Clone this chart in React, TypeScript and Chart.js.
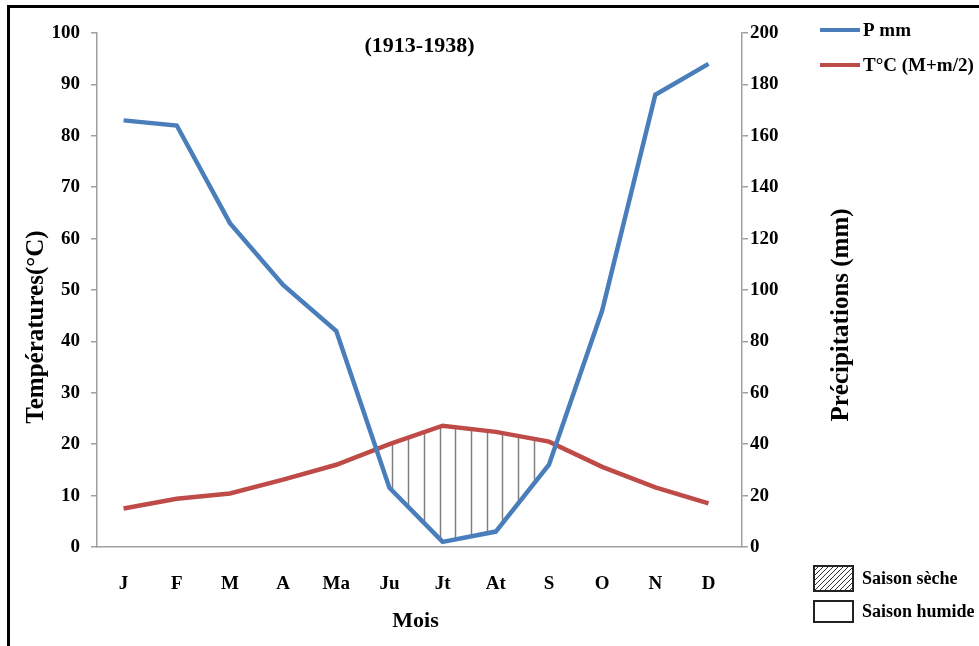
import React, { useEffect, useRef } from "react";
import { Chart, registerables } from "chart.js";

Chart.register(...registerables);

const months = ["J", "F", "M", "A", "Ma", "Ju", "Jt", "At", "S", "O", "N", "D"];
const precipitationMm = [166, 164, 126, 102, 84, 23, 2, 6, 32, 92, 176, 188];
const temperatureC = [7.5, 9.4, 10.4, 13.1, 16, 20, 23.6, 22.4, 20.5, 15.6, 11.6, 8.5];
const tempTickStep = 10;
const precipTickStep = 20;
const periodLabel = "(1913-1938)";
const xTitle = "Mois";
const leftTitle = "Températures(°C)";
const rightTitle = "Précipitations (mm)";
const precipLabel = "P mm";
const tempLabel = "T°C (M+m/2)";
const dryLabel = "Saison sèche";
const wetLabel = "Saison humide";

const BLUE = "#4A7EBB";
const RED = "#BE4B48";
const AXIS = "#a0a0a0";
const FONT = "'Liberation Serif', 'Times New Roman', serif";

function yAt(pts: any[], x: number): number | null {
  for (let i = 0; i < pts.length - 1; i++) {
    const a = pts[i], b = pts[i + 1];
    if (x >= a.x && x <= b.x) {
      const t = (x - a.x) / (b.x - a.x);
      return a.y + t * (b.y - a.y);
    }
  }
  return null;
}

const decorPlugin = {
  id: "decor",
  beforeDatasetsDraw(chart: any) {
    const { ctx, chartArea } = chart;
    const pPts = chart.getDatasetMeta(0).data;
    const tPts = chart.getDatasetMeta(1).data;
    const dry: number[] = [];
    months.forEach((_, i) => {
      if (temperatureC[i] * 2 > precipitationMm[i]) dry.push(i);
    });
    if (!dry.length) return;
    const start = pPts[dry[0]].x;
    const end = pPts[dry[dry.length - 1]].x;
    ctx.save();
    ctx.beginPath();
    ctx.rect(chartArea.left, chartArea.top, chartArea.right - chartArea.left, chartArea.bottom - chartArea.top);
    ctx.clip();
    ctx.strokeStyle = "#808080";
    ctx.lineWidth = 1.5;
    for (let x = start + 3; x < end - 5; x += 15.7) {
      const yp = yAt(pPts, x);
      const yt = yAt(tPts, x);
      if (yp != null && yt != null && yt < yp) {
        ctx.beginPath();
        ctx.moveTo(Math.round(x) + 0.5, yt);
        ctx.lineTo(Math.round(x) + 0.5, yp);
        ctx.stroke();
      }
    }
    ctx.restore();
  },
  afterDraw(chart: any) {
    const { ctx, chartArea } = chart;
    ctx.save();
    ctx.fillStyle = "#000";
    // period title
    ctx.font = `bold 22px ${FONT}`;
    ctx.textAlign = "center";
    ctx.textBaseline = "middle";
    ctx.fillText(periodLabel, (chartArea.left + chartArea.right) / 2, chartArea.top + 13);

    // axis titles
    ctx.font = `bold 25px ${FONT}`;
    ctx.save();
    ctx.translate(37, 327);
    ctx.rotate(-Math.PI / 2);
    ctx.fillText(leftTitle, 0, 0);
    ctx.restore();
    ctx.save();
    ctx.translate(842, 315);
    ctx.rotate(-Math.PI / 2);
    ctx.fillText(rightTitle, 0, 0);
    ctx.restore();

    ctx.font = `bold 22px ${FONT}`;
    ctx.fillText(xTitle, (chartArea.left + chartArea.right) / 2 - 4, 621);

    // series legend
    const items = [
      { label: precipLabel, color: BLUE, y: 30 },
      { label: tempLabel, color: RED, y: 65 },
    ];
    ctx.font = `bold 19px ${FONT}`;
    ctx.textAlign = "left";
    items.forEach((it) => {
      ctx.strokeStyle = it.color;
      ctx.lineWidth = 4;
      ctx.beginPath();
      ctx.moveTo(820, it.y);
      ctx.lineTo(860, it.y);
      ctx.stroke();
      ctx.fillStyle = "#000";
      ctx.fillText(it.label, 863, it.y + 1);
    });

    // season legend
    const bx = 814, bw = 39;
    ctx.save();
    ctx.beginPath();
    ctx.rect(bx, 566, bw, 25);
    ctx.clip();
    ctx.strokeStyle = "#333";
    ctx.lineWidth = 1;
    for (let k = -30; k < bw + 30; k += 5) {
      ctx.beginPath();
      ctx.moveTo(bx + k, 591);
      ctx.lineTo(bx + k + 25, 566);
      ctx.stroke();
    }
    ctx.restore();
    ctx.strokeStyle = "#222";
    ctx.lineWidth = 2;
    ctx.strokeRect(bx, 566, bw, 25);
    ctx.strokeRect(bx, 601, bw, 21);
    ctx.fillStyle = "#000";
    ctx.font = `bold 18px ${FONT}`;
    ctx.fillText(dryLabel, 862, 579);
    ctx.fillText(wetLabel, 862, 612);
    ctx.restore();
  },
};

export default function App() {
  const ref = useRef<HTMLCanvasElement | null>(null);
  useEffect(() => {
    if (!ref.current) return;
    const chart = new Chart(ref.current, {
      type: "line",
      data: {
        datasets: [
          {
            label: precipLabel,
            data: precipitationMm.map((v, i) => ({ x: i, y: v })),
            borderColor: BLUE,
            borderWidth: 4.5,
            pointRadius: 0,
            tension: 0,
            yAxisID: "yP",
          },
          {
            label: tempLabel,
            data: temperatureC.map((v, i) => ({ x: i, y: v })),
            borderColor: RED,
            borderWidth: 4.5,
            pointRadius: 0,
            tension: 0,
            yAxisID: "yT",
          },
        ],
      },
      options: {
        responsive: false,
        animation: false,
        layout: { padding: { left: 0, right: 0, top: 33, bottom: 0 } },
        plugins: { legend: { display: false }, tooltip: { enabled: false }, title: { display: false } },
        scales: {
          x: {
            type: "linear",
            min: -0.5,
            max: 11.63,
            afterBuildTicks: (s: any) => {
              s.ticks = months.map((_, i) => ({ value: i }));
            },
            afterFit: (s: any) => {
              s.height = 99;
            },
            grid: { display: false },
            border: { display: true, color: AXIS, width: 1.5 },
            ticks: {
              autoSkip: false,
              maxRotation: 0,
              padding: 18,
              color: "#000",
              font: { family: FONT, size: 19, weight: "bold" },
              callback: (v: any) => months[v as number] ?? "",
            },
          },
          yT: {
            position: "left",
            min: 0,
            max: 100,
            afterFit: (s: any) => {
              s.width = 97;
            },
            grid: { drawOnChartArea: false, tickLength: 6, color: AXIS, lineWidth: 1.5 },
            border: { color: AXIS, width: 1.5 },
            ticks: {
              stepSize: tempTickStep,
              padding: 11,
              color: "#000",
              font: { family: FONT, size: 19, weight: "bold" },
            },
          },
          yP: {
            position: "right",
            min: 0,
            max: 200,
            afterFit: (s: any) => {
              s.width = 237;
            },
            grid: { drawOnChartArea: false, tickLength: 6, color: AXIS, lineWidth: 1.5 },
            border: { color: AXIS, width: 1.5 },
            ticks: {
              stepSize: precipTickStep,
              padding: 2,
              color: "#000",
              font: { family: FONT, size: 19, weight: "bold" },
            },
          },
        },
      },
      plugins: [decorPlugin],
    } as any);
    return () => chart.destroy();
  }, []);

  return (
    <div style={{ position: "fixed", left: 0, top: 0, width: 979, height: 646, background: "#fff", overflow: "hidden" }}>
      <canvas ref={ref} width={979} height={646} style={{ display: "block", width: 979, height: 646 }} />
      <div
        style={{
          position: "absolute",
          left: 7,
          top: 5,
          width: 1000,
          height: 700,
          borderLeft: "3px solid #000",
          borderTop: "3px solid #000",
          pointerEvents: "none",
        }}
      />
    </div>
  );
}
